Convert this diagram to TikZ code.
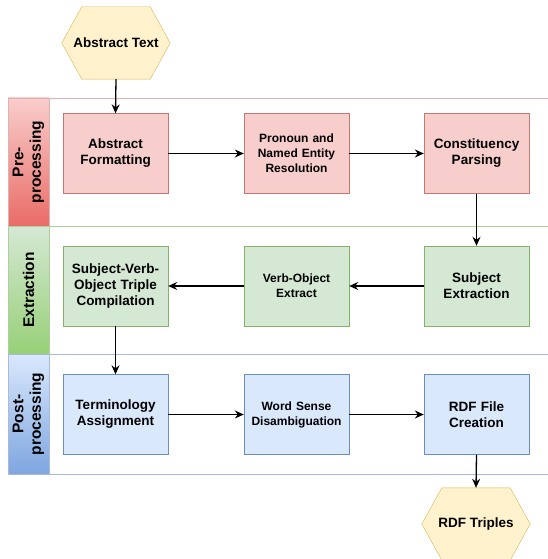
\documentclass[tikz,border=0pt]{standalone}
\usepackage{fontspec}
\setmainfont{Liberation Sans}
\usetikzlibrary{arrows.meta}
\definecolor{redfill}{HTML}{F8CECC}
\definecolor{redline}{HTML}{B85450}
\definecolor{reddark}{HTML}{EA6B66}
\definecolor{greenfill}{HTML}{D5E8D4}
\definecolor{greenline}{HTML}{82B366}
\definecolor{greendark}{HTML}{97D077}
\definecolor{bluefill}{HTML}{DAE8FC}
\definecolor{blueline}{HTML}{6C8EBF}
\definecolor{bluedark}{HTML}{7EA6E0}
\definecolor{yelfill}{HTML}{FFF2CC}
\definecolor{yelline}{HTML}{D6B656}
\begin{document}
\begin{tikzpicture}[x=1pt,y=-1pt,
  every node/.style={font=\bfseries, align=center},
  procbox/.style={draw, minimum width=105pt, minimum height=80pt, inner sep=2pt, text width=100pt, font=\fontsize{13.5}{16}\selectfont\bfseries},
  smalltxt/.style={font=\fontsize{12}{15}\selectfont\bfseries},
  redbox/.style={procbox, fill=redfill, draw=redline!80},
  greenbox/.style={procbox, fill=greenfill, draw=greenline},
  bluebox/.style={procbox, fill=bluefill, draw=blueline},
  hexnode/.style={minimum width=108pt, minimum height=72pt, inner sep=0pt, font=\fontsize{13.5}{16}\selectfont\bfseries},
  hexshape/.style={draw=yelline, fill=yelfill},
  laneline/.style={line width=0.9pt},
  lanetitle/.style={rotate=90, font=\fontsize{15.5}{17.5}\selectfont\bfseries},
  flow/.style={-{Stealth[length=9pt,width=8pt,inset=3pt]}, line width=1.3pt}
]
\useasboundingbox (0,0) rectangle (548,559);
% lanes
\shade[top color=redfill, bottom color=reddark] (8,98) rectangle (49,226);
\shade[top color=greenfill, bottom color=greendark] (8,226) rectangle (49,354);
\shade[top color=bluefill, bottom color=bluedark] (8,354) rectangle (49,474);
\draw[laneline, draw=redline!45] (548,98) -- (8,98) -- (8,226) (49,98) -- (49,226);
\draw[laneline, draw=greenline!65] (548,226) -- (8,226) -- (8,354) (49,226) -- (49,354);
\draw[laneline, draw=blueline!60] (548,354) -- (8,354) -- (8,474) -- (548,474) (49,354) -- (49,474);
\node[lanetitle] (lpre) at (28.5,162) {Pre-\\processing};
\node[lanetitle] (lext) at (28.5,290) {Extraction};
\node[lanetitle] (lpost) at (28.5,414) {Post-\\processing};
% hexagons
\node[hexnode] (abs) at (116,43) {};
\filldraw[draw=yelline, fill=yelfill] (abs.west) -- ([xshift=20pt]abs.north west) -- ([xshift=-20pt]abs.north east) -- (abs.east) -- ([xshift=-20pt]abs.south east) -- ([xshift=20pt]abs.south west) -- cycle;
\node[hexnode] (abslabel) at (abs.center) {Abstract Text};
\node[hexnode] (rdf) at (476,524) {};
\filldraw[draw=yelline, fill=yelfill] (rdf.west) -- ([xshift=20pt]rdf.north west) -- ([xshift=-20pt]rdf.north east) -- (rdf.east) -- ([xshift=-20pt]rdf.south east) -- ([xshift=20pt]rdf.south west) -- cycle;
\node[hexnode] (rdflabel) at (rdf.center) {RDF Triples};
% process boxes
\node[redbox] (fmt) at (115.5,153.5) {Abstract\\Formatting};
\node[redbox, smalltxt] (pron) at (296.5,153.5) {Pronoun and\\Named Entity\\Resolution};
\node[redbox] (cons) at (476.5,153.5) {Constituency\\Parsing};
\node[greenbox] (svo) at (115.5,286) {Subject-Verb-\\Object Triple\\Compilation};
\node[greenbox, smalltxt] (vo) at (296.5,286) {Verb-Object\\Extract};
\node[greenbox] (subj) at (476.5,286) {Subject\\Extraction};
\node[bluebox] (term) at (115.5,414.5) {Terminology\\Assignment};
\node[bluebox, smalltxt] (wsd) at (296.5,414.5) {Word Sense\\Disambiguation};
\node[bluebox] (rdff) at (476.5,414.5) {RDF File\\Creation};
% connectors
\draw[flow] (abs.south) -- (fmt.north);
\draw[flow] (fmt.east) -- (pron.west);
\draw[flow] (pron.east) -- (cons.west);
\draw[flow] (cons.south) -- (subj.north);
\draw[flow] (subj.west) -- (vo.east);
\draw[flow] (vo.west) -- (svo.east);
\draw[flow] (svo.south) -- (term.north);
\draw[flow] (term.east) -- (wsd.west);
\draw[flow] (wsd.east) -- (rdff.west);
\draw[flow] (rdff.south) -- (rdf.north);
\end{tikzpicture}
\end{document}
